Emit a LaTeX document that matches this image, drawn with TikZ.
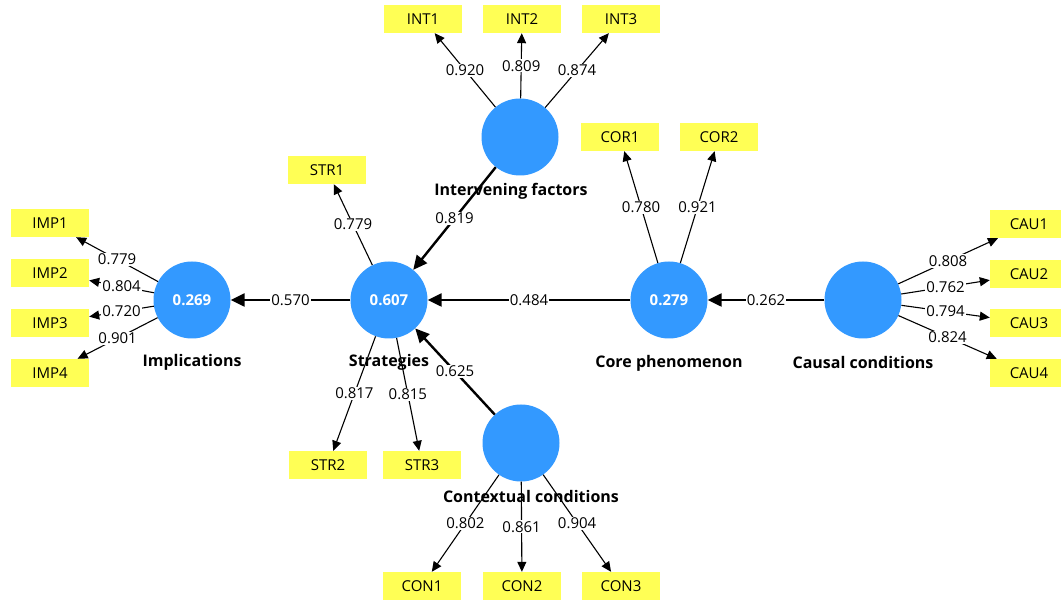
\documentclass[tikz,border=0pt]{standalone}
\usepackage{fontspec}
\setmainfont{Open Sans}
\usepackage{xcolor}
\usepackage{tikz}
\usetikzlibrary{arrows.meta,positioning}
\definecolor{lvblue}{RGB}{51,153,255}
\definecolor{mvyellow}{RGB}{255,255,85}

\begin{document}
\begin{tikzpicture}[
    x=1pt, y=-1pt,
    latent/.style={circle, fill=lvblue, minimum size=77pt, inner sep=0pt, text=white, font=\fontsize{15}{17}\selectfont\bfseries},
    item/.style={fill=mvyellow, minimum width=78pt, minimum height=28pt, inner sep=0pt, font=\fontsize{15}{17}\selectfont},
    lvname/.style={font=\fontsize{16}{18}\selectfont\bfseries},
    coef/.style={fill=white, inner sep=1pt, font=\fontsize{15}{17}\selectfont},
    inner/.style={-{Triangle[length=14pt,width=13pt]}, line width=2.4pt},
    outer/.style={-{Triangle[length=10pt,width=9pt]}, line width=1.1pt}
]
    \fill[white] (0,0) rectangle (1061,601);
    \useasboundingbox (0,0) rectangle (1061,601);

    % latent variables
    \node[latent] (imp) at (192,300) {0.269};
    \node[latent] (str) at (389,300) {0.607};
    \node[latent] (int) at (520,137) {};
    \node[latent] (cor) at (669,300) {0.279};
    \node[latent] (cau) at (863,300) {};
    \node[latent] (con) at (521,443) {};

    \node[lvname] (impname) at (192,362) {Implications};
    \node[lvname] (strname) at (389,362) {Strategies};
    \node[lvname] (intname) at (511,191) {Intervening factors};
    \node[lvname] (corname) at (669,363) {Core phenomenon};
    \node[lvname] (cauname) at (863,363) {Causal conditions};
    \node[lvname] (conname) at (531,497) {Contextual conditions};

    % indicators
    \node[item] (imp1) at (50,223) {IMP1};
    \node[item] (imp2) at (50,273) {IMP2};
    \node[item] (imp3) at (50,323) {IMP3};
    \node[item] (imp4) at (50,373) {IMP4};
    \node[item] (str1) at (327,170) {STR1};
    \node[item] (str2) at (328,465) {STR2};
    \node[item] (str3) at (422,465) {STR3};
    \node[item] (int1) at (423,19) {INT1};
    \node[item] (int2) at (522,19) {INT2};
    \node[item] (int3) at (621,19) {INT3};
    \node[item] (cor1) at (620,137) {COR1};
    \node[item] (cor2) at (719,137) {COR2};
    \node[item] (cau1) at (1029,224) {CAU1};
    \node[item] (cau2) at (1029,274) {CAU2};
    \node[item] (cau3) at (1029,323) {CAU3};
    \node[item] (cau4) at (1029,373) {CAU4};
    \node[item] (con1) at (422,586) {CON1};
    \node[item] (con2) at (522,586) {CON2};
    \node[item] (con3) at (621,586) {CON3};

    % path coefficients
    \draw[inner] (str) -- node[coef] {0.570} (imp);
    \draw[inner] (cor) -- node[coef] {0.484} (str);
    \draw[inner] (cau) -- node[coef] {0.262} (cor);
    \draw[inner] (int) -- node[coef] {0.819} (str);
    \draw[inner] (con) -- node[coef] {0.625} (str);

    % outer loadings
    \draw[outer] (imp) -- node[coef] {0.779} (imp1);
    \draw[outer] (imp) -- node[coef] {0.804} (imp2);
    \draw[outer] (imp) -- node[coef] {0.720} (imp3);
    \draw[outer] (imp) -- node[coef] {0.901} (imp4);
    \draw[outer] (str) -- node[coef] {0.779} (str1);
    \draw[outer] (str) -- node[coef] {0.817} (str2);
    \draw[outer] (str) -- node[coef] {0.815} (str3);
    \draw[outer] (int) -- node[coef] {0.920} (int1);
    \draw[outer] (int) -- node[coef] {0.809} (int2);
    \draw[outer] (int) -- node[coef] {0.874} (int3);
    \draw[outer] (cor) -- node[coef] {0.780} (cor1);
    \draw[outer] (cor) -- node[coef] {0.921} (cor2);
    \draw[outer] (cau) -- node[coef] {0.808} (cau1);
    \draw[outer] (cau) -- node[coef] {0.762} (cau2);
    \draw[outer] (cau) -- node[coef] {0.794} (cau3);
    \draw[outer] (cau) -- node[coef] {0.824} (cau4);
    \draw[outer] (con) -- node[coef] {0.802} (con1);
    \draw[outer] (con) -- node[coef] {0.861} (con2);
    \draw[outer] (con) -- node[coef] {0.904} (con3);
\end{tikzpicture}
\end{document}
